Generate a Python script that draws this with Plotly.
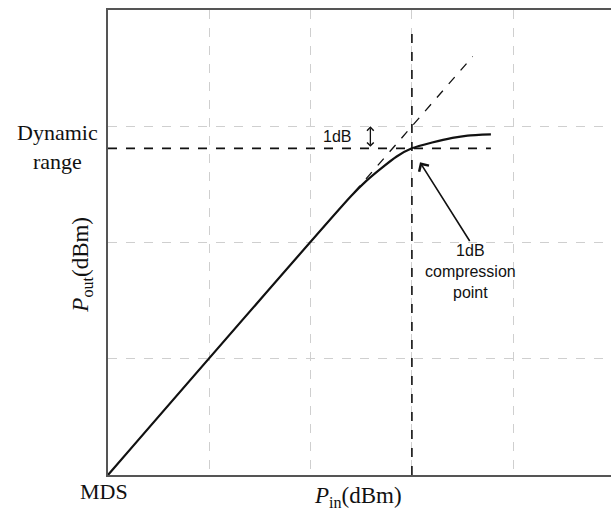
import plotly.graph_objects as go

# ---- data (axis units: one grid step = 1) ----
grid_x = [1, 2, 3, 4, 5]
grid_y = [1, 2, 3]
pin_curve = [0.0, 2.40, 2.55, 2.70, 2.85, 3.00, 3.20, 3.40, 3.55, 3.78]
pout_curve = [0.0, 2.40, 2.53, 2.64, 2.74, 2.81, 2.86, 2.90, 2.92, 2.93]
linear_x = [2.43, 3.60]
linear_y = [2.43, 3.60]
p1db_in = 3.0
p1db_out = 2.81
vline_top = 3.8
hline_end = 3.78
ideal_at_p1db = 3.0

SERIF = "Liberation Serif"
SANS = "Liberation Sans"

fig = go.Figure()
fig.add_trace(go.Scatter(x=pin_curve, y=pout_curve, mode="lines",
                         line=dict(color="#111", width=2.2, shape="spline", smoothing=0.6),
                         showlegend=False, hoverinfo="skip", cliponaxis=False))
fig.add_trace(go.Scatter(x=linear_x, y=linear_y, mode="lines",
                         line=dict(color="#111", width=1.3, dash="dash"),
                         showlegend=False, hoverinfo="skip"))
fig.add_trace(go.Scatter(x=[0, hline_end], y=[p1db_out, p1db_out], mode="lines",
                         line=dict(color="#111", width=1.6, dash="dash"),
                         showlegend=False, hoverinfo="skip", cliponaxis=False))
fig.add_trace(go.Scatter(x=[p1db_in, p1db_in], y=[0, vline_top], mode="lines",
                         line=dict(color="#111", width=1.6, dash="dash"),
                         showlegend=False, hoverinfo="skip", cliponaxis=False))

ann = []
# double arrow 1dB
ann.append(dict(x=2.59, y=ideal_at_p1db, ax=2.59, ay=p1db_out, xref="x", yref="y",
                axref="x", ayref="y", text="", showarrow=True, arrowside="end+start",
                arrowhead=4, arrowsize=1.0, arrowwidth=1.3, arrowcolor="#111",
                standoff=0, startstandoff=0))
ann.append(dict(x=2.26, y=2.91, xref="x", yref="y", text="1dB", showarrow=False,
                font=dict(family=SANS, size=16, color="#111")))
# compression point arrow
ann.append(dict(x=3.08, y=2.69, ax=3.58, ay=2.0, xref="x", yref="y", axref="x", ayref="y",
                text="", showarrow=True, arrowhead=4, arrowsize=1.4, arrowwidth=1.6,
                arrowcolor="#111", standoff=0))
ann.append(dict(x=3.58, y=1.75, xref="x", yref="y", text="1dB<br>compression<br>point",
                showarrow=False, xanchor="center", yanchor="middle",
                font=dict(family=SANS, size=16, color="#111")))
# outside labels (paper coordinates)
ann.append(dict(x=-0.101, y=0.705, xref="paper", yref="paper", text="Dynamic<br>range",
                xanchor="center", yanchor="middle",
                showarrow=False, font=dict(family=SERIF, size=22, color="#111")))
ann.append(dict(x=-0.008, y=-0.035, xref="paper", yref="paper", text="MDS",
                xanchor="center", yanchor="middle",
                showarrow=False, font=dict(family=SERIF, size=22, color="#111")))
ann.append(dict(x=0.497, y=-0.047, xref="paper", yref="paper", text="<i>P</i><sub>in</sub>(dBm)",
                xanchor="center", yanchor="middle",
                showarrow=False, font=dict(family=SERIF, size=23, color="#111")))
ann.append(dict(x=-0.052, y=0.452, xref="paper", yref="paper", text="<i>P</i><sub>out</sub>(dBm)",
                xanchor="center", yanchor="middle",
                textangle=-90, showarrow=False, font=dict(family=SERIF, size=23, color="#111")))

fig.update_layout(
    width=611, height=520,
    margin=dict(l=108, r=0, t=10, b=45),
    paper_bgcolor="white", plot_bgcolor="white",
    annotations=ann,
    xaxis=dict(range=[0, 503 / 101.3], tickvals=grid_x, showticklabels=False, ticks="",
               showgrid=True, gridcolor="#cfcfcf", griddash="dash", gridwidth=1,
               zeroline=False, showline=True, linecolor="#555", linewidth=1.5, mirror=True),
    yaxis=dict(range=[0, 4.0], tickvals=grid_y, showticklabels=False, ticks="",
               showgrid=True, gridcolor="#cfcfcf", griddash="dash", gridwidth=1,
               zeroline=False, showline=True, linecolor="#555", linewidth=1.5),
)
fig.write_html("out.html", config={"displayModeBar": False},
               post_script="document.body.style.margin='0';document.body.style.overflow='hidden';")
